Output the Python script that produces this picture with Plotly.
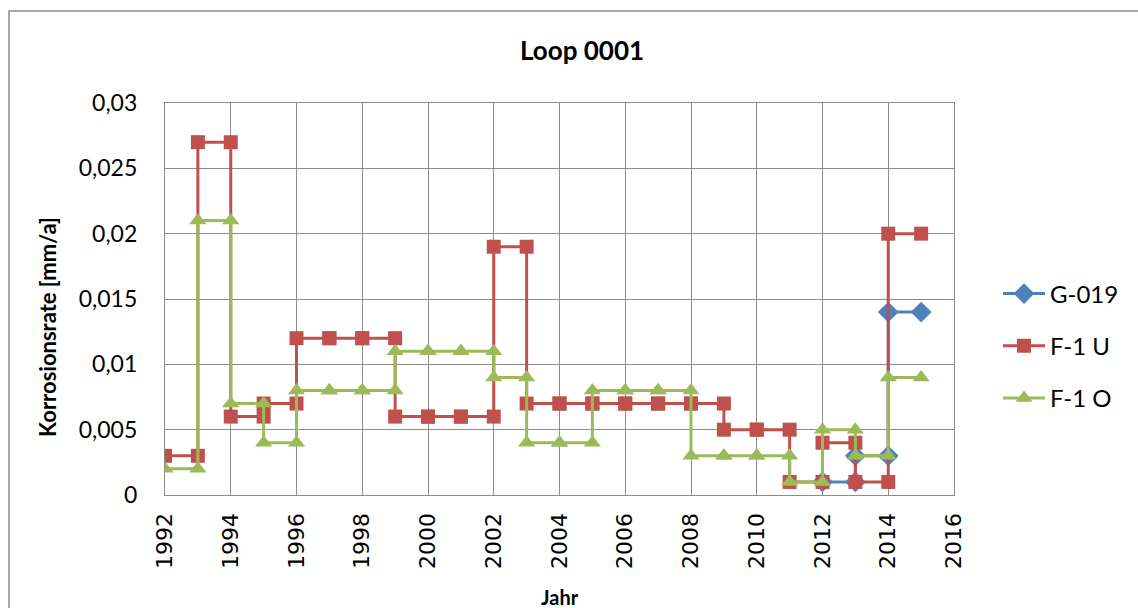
import plotly.graph_objects as go

# Corrosion rate per measurement interval; each value holds from its start year to the next year
years_g019 = [2012, 2013, 2014]
rate_g019 = [0.001, 0.003, 0.014]

years_f1 = list(range(1992, 2015))
rate_f1u = [0.003, 0.027, 0.006, 0.007, 0.012, 0.012, 0.012, 0.006, 0.006, 0.006,
            0.019, 0.007, 0.007, 0.007, 0.007, 0.007, 0.007, 0.005, 0.005, 0.001,
            0.004, 0.001, 0.020]
rate_f1o = [0.002, 0.021, 0.007, 0.004, 0.008, 0.008, 0.008, 0.011, 0.011, 0.011,
            0.009, 0.004, 0.004, 0.008, 0.008, 0.008, 0.003, 0.003, 0.003, 0.001,
            0.005, 0.003, 0.009]

y_tickvals = [0, 0.005, 0.01, 0.015, 0.02, 0.025, 0.03]
y_ticktext = ["0", "0,005", "0,01", "0,015", "0,02", "0,025", "0,03"]
x_tickvals = list(range(1992, 2017, 2))
x_ticktext = [str(v) for v in x_tickvals]


def step_points(starts, values):
    """Expand interval values into start/end points so each year shows as a flat step."""
    xs, ys = [], []
    for start, val in zip(starts, values):
        xs += [start, start + 1]
        ys += [val, val]
    return xs, ys


series = [
    ("G-019", years_g019, rate_g019, "#4F81BD", "diamond", 16),
    ("F-1 U", years_f1, rate_f1u, "#C0504D", "square", 14),
    ("F-1 O", years_f1, rate_f1o, "#9BBB59", "triangle-up", 15),
]

fig = go.Figure()
for name, yrs, vals, color, symbol, size in series:
    xs, ys = step_points(yrs, vals)
    fig.add_trace(go.Scatter(
        x=xs, y=ys, name=name, mode="lines+markers", legendgroup=name,
        line=dict(color=color, width=3),
        marker=dict(symbol=symbol, size=size, color=color, line=dict(width=0)),
    ))

grid = "#8C8C8C"
fig.update_layout(
    width=1138, height=608,
    margin=dict(l=165, r=184, t=103, b=113),
    paper_bgcolor="white", plot_bgcolor="white",
    font=dict(family="Lato", color="black"),
    title=dict(text="<b>Loop 0001</b>", x=(582 - 0) / 1138, xanchor="center",
               y=1 - 51 / 608, yanchor="middle", font=dict(size=26, family="Lato")),
    showlegend=True,
    legend=dict(x=(998 - 165) / 789, xanchor="left", y=(495 - 346) / 392, yanchor="middle",
                font=dict(size=24, family="Lato"), tracegroupgap=18, itemwidth=42,
                bgcolor="rgba(0,0,0,0)"),
    xaxis=dict(range=[1992, 2016], tickvals=x_tickvals, ticktext=x_ticktext,
               tickangle=-90, tickfont=dict(size=22, family="DejaVu Sans"),
               ticklabelstandoff=8,
               showgrid=True, gridcolor=grid, gridwidth=1.2,
               showline=True, linecolor=grid, linewidth=1.2, mirror=True,
               zeroline=False, ticks="", ticklen=0),
    yaxis=dict(range=[0, 0.03], tickvals=y_tickvals, ticktext=y_ticktext,
               tickfont=dict(size=23, family="Lato"), ticklabelstandoff=22,
               showgrid=True, gridcolor=grid, gridwidth=1.2,
               showline=True, linecolor=grid, linewidth=1.2, mirror=True,
               zeroline=False, ticks="", ticklen=0),
    annotations=[
        dict(text="<b>Korrosionsrate [mm/a]</b>", textangle=-90,
             xref="paper", yref="paper", x=(47 - 165) / 789, y=(495 - 327) / 392,
             xanchor="center", yanchor="middle", showarrow=False,
             font=dict(size=22, family="Lato")),
        dict(text="<b>Jahr</b>", xref="paper", yref="paper",
             x=0.5, y=(495 - 597) / 392, xanchor="center", yanchor="middle",
             showarrow=False, font=dict(size=20, family="Lato")),
    ],
    shapes=[dict(type="rect", xref="paper", yref="paper",
                 x0=(9 - 165) / 789, x1=1.4, y0=-0.5, y1=(495 - 11) / 392,
                 line=dict(color="#8C8C8C", width=1.5), fillcolor="rgba(0,0,0,0)",
                 layer="below")],
)

fig.write_html("out.html")
